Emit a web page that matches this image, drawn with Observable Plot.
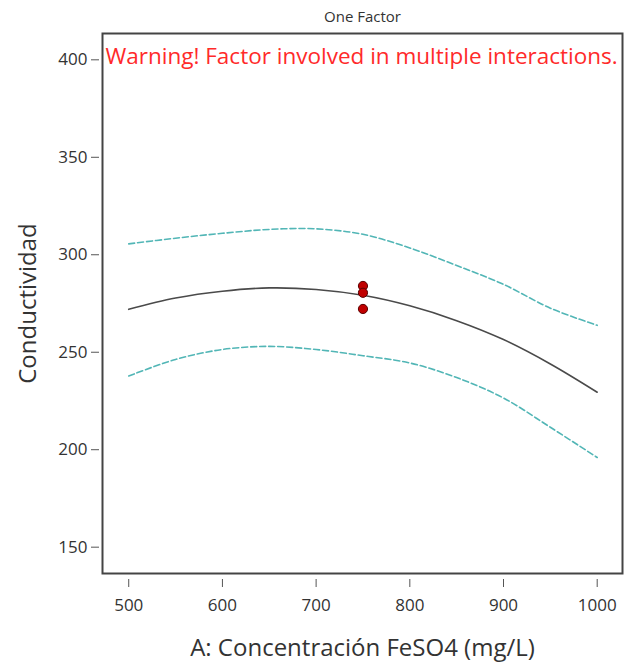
<!DOCTYPE html>
<html>
<head>
<meta charset="utf-8">
<script src="https://cdn.jsdelivr.net/npm/d3@7"></script>
<script src="https://cdn.jsdelivr.net/npm/@observablehq/plot@0.6"></script>
<style>
  html, body { margin: 0; padding: 0; background: #fff; }
  #chart { width: 627px; height: 668px; }
</style>
</head>
<body>
<div id="chart"></div>
<script>
const concentration = [500, 550, 600, 650, 700, 750, 800, 850, 900, 950, 1000];
const predicted =     [272.0, 277.8, 281.3, 283.0, 282.2, 279.2, 273.8, 266.2, 256.5, 244.0, 229.5];
const upperCI =       [305.6, 308.5, 311.0, 313.0, 313.3, 310.5, 303.5, 294.5, 284.8, 272.6, 263.8];
const lowerCI =       [237.8, 246.3, 251.4, 253.0, 251.4, 248.2, 244.5, 237.0, 226.5, 211.5, 196.0];
const obsX = [750, 750, 750];
const obsY = [284.0, 280.5, 272.2];
const xTicks = [500, 600, 700, 800, 900, 1000];
const yTicks = [150, 200, 250, 300, 350, 400];
const chartTitle = "One Factor";
const warningText = "Warning! Factor involved in multiple interactions.";
const xLabel = "A: Concentración FeSO4 (mg/L)";
const yLabel = "Conductividad";

const curve = concentration.map((x, i) => ({x, mean: predicted[i], hi: upperCI[i], lo: lowerCI[i]}));
const obs = obsX.map((x, i) => ({x, y: obsY[i]}));

const plot = Plot.plot({
  width: 627,
  height: 668,
  marginLeft: 102,
  marginRight: 5,
  marginTop: 33,
  marginBottom: 95,
  style: {fontFamily: "'Open Sans', sans-serif", background: "#fff"},
  x: {domain: [472, 1027]},
  y: {domain: [136.5, 413.5]},
  marks: [
    Plot.frame({stroke: "#444", strokeWidth: 2}),
    Plot.axisX({ticks: xTicks, tickSize: 8, dy: 6, tickPadding: 11, stroke: "#555", fill: "#333", fontSize: 17, label: null, tickFormat: d => String(d)}),
    Plot.axisY({ticks: yTicks, tickSize: 8, dx: -3, tickPadding: 4, stroke: "#555", fill: "#333", fontSize: 17, label: null, tickFormat: d => String(d)}),
    Plot.line(curve, {x: "x", y: "hi", stroke: "#52b6b6", strokeWidth: 1.6, strokeDasharray: "6,3", curve: "catmull-rom"}),
    Plot.line(curve, {x: "x", y: "lo", stroke: "#52b6b6", strokeWidth: 1.6, strokeDasharray: "6,3", curve: "catmull-rom"}),
    Plot.line(curve, {x: "x", y: "mean", stroke: "#4a4a4a", strokeWidth: 1.6, curve: "catmull-rom"}),
    Plot.dot(obs, {x: "x", y: "y", r: 4.6, fill: "#c00000", stroke: "#5a0000", strokeWidth: 1}),
    Plot.text([chartTitle], {frameAnchor: "top", dy: -22, fontSize: 15, fill: "#333"}),
    Plot.text([warningText], {frameAnchor: "top-left", dx: 3, dy: 15, textAnchor: "start", lineAnchor: "top", fontSize: 22.5, fill: "#ff2a2a"}),
    Plot.text([xLabel], {frameAnchor: "bottom", dy: 82, fontSize: 24, fill: "#333"}),
    Plot.text([yLabel], {frameAnchor: "left", dx: -74, rotate: -90, textAnchor: "middle", fontSize: 24, fill: "#333"})
  ]
});
document.getElementById("chart").appendChild(plot);
</script>
</body>
</html>
